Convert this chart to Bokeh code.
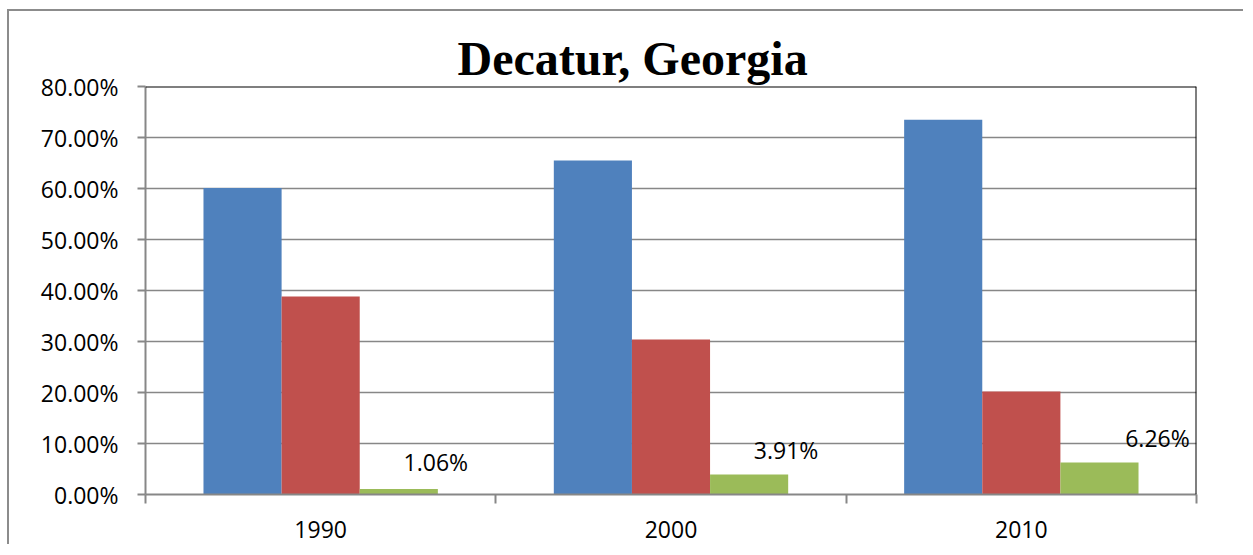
from bokeh.plotting import figure
from bokeh.models import (FactorRange, Range1d, LinearAxis, CategoricalAxis, FixedTicker,
                          PrintfTickFormatter, Span, ColumnDataSource)
from bokeh.transform import dodge
from bokeh.core.properties import value
from bokeh.embed import file_html
from bokeh.resources import INLINE

# ---- data ----
years = ["1990", "2000", "2010"]
series_1 = [60.1, 65.5, 73.5]
series_2 = [38.8, 30.4, 20.2]
series_3 = [1.06, 3.91, 6.26]
y_ticks = [0, 10, 20, 30, 40, 50, 60, 70, 80]
title_text = "Decatur, Georgia"

# ---- layout tweaks (pixels) ----
label_dx = [37, 37, 58]
label_dy = [-27, -25, -25]

GRAY = "#878787"
FONT = "Open Sans"

src = ColumnDataSource(dict(
    year=years, s1=series_1, s2=series_2, s3=series_3,
    s3_label=[f"{v:.2f}%" for v in series_3], dx=label_dx, dy=label_dy,
))

p = figure(x_range=FactorRange(*years), y_range=Range1d(0, 80),
           width=1236, height=535, output_backend="svg", toolbar_location=None,
           x_axis_location=None, y_axis_location="left",
           min_border_left=136, min_border_right=49, min_border_top=75, min_border_bottom=52,
           title=title_text)
p.styles = {"border-left": "2px solid #8c8c8c", "border-top": "2px solid #8c8c8c",
            "margin-left": "7px", "margin-top": "9px"}
p.outline_line_color = None
p.background_fill_color = "white"
p.border_fill_color = "white"

p.title.text_font = "Liberation Serif"
p.title.text_font_style = "bold"
p.title.text_font_size = "48px"
p.title.text_color = "black"
p.title.align = "left"
p.title.offset = 312
p.title.standoff = 3

# y axis
ya = p.yaxis[0]
ya.ticker = FixedTicker(ticks=y_ticks)
ya.formatter = PrintfTickFormatter(format="%.2f%%")
ya.major_label_text_font = FONT
ya.major_label_text_font_size = "23px"
ya.major_label_text_color = "black"
ya.axis_line_color = GRAY
ya.axis_line_width = 2
ya.major_tick_line_color = GRAY
ya.major_tick_line_width = 2
ya.major_tick_out = 8
ya.major_tick_in = 0
ya.minor_tick_line_color = None
ya.major_label_standoff = 19

p.ygrid.ticker = FixedTicker(ticks=y_ticks)
p.ygrid.grid_line_color = GRAY
p.ygrid.grid_line_width = 1.5
p.xgrid.visible = False

# boundary tick axis (ticks between the year groups)
bounds = [0, 1, 2, 3]
bax = LinearAxis(ticker=FixedTicker(ticks=bounds),
                 major_tick_out=9, major_tick_in=0, major_tick_line_color=GRAY,
                 major_tick_line_width=2, axis_line_color=GRAY, axis_line_width=2,
                 minor_tick_line_color=None, major_label_text_font_size="1px",
                 major_label_overrides={b: "" for b in bounds},
                 major_label_standoff=0)
p.add_layout(bax, "below")

cax = CategoricalAxis(major_tick_line_color=None, axis_line_color=None,
                      major_label_text_font=FONT, major_label_text_font_size="23px",
                      major_label_text_color="black", major_label_standoff=11)
p.add_layout(cax, "below")

# bars
W = 0.223
p.vbar(x=dodge("year", -W, range=p.x_range), top="s1", width=W, source=src,
       fill_color="#4F81BD", line_color=None)
p.vbar(x=dodge("year", 0, range=p.x_range), top="s2", width=W, source=src,
       fill_color="#C0504D", line_color=None)
p.vbar(x=dodge("year", W, range=p.x_range), top="s3", width=W, source=src,
       fill_color="#9BBB59", line_color=None)

p.text(x=dodge("year", W, range=p.x_range), y="s3", text="s3_label", source=src,
       x_offset="dx", y_offset="dy", text_font=value(FONT), text_font_size="23px",
       text_align="center", text_baseline="middle", text_color="black")

# plot-area frame (top and right in black)
p.add_layout(Span(location=80, dimension="width", line_color="black", line_width=2))
p.add_layout(Span(location=3, dimension="height", line_color="black", line_width=2))

open("out.html", "w").write(file_html(p, INLINE))
